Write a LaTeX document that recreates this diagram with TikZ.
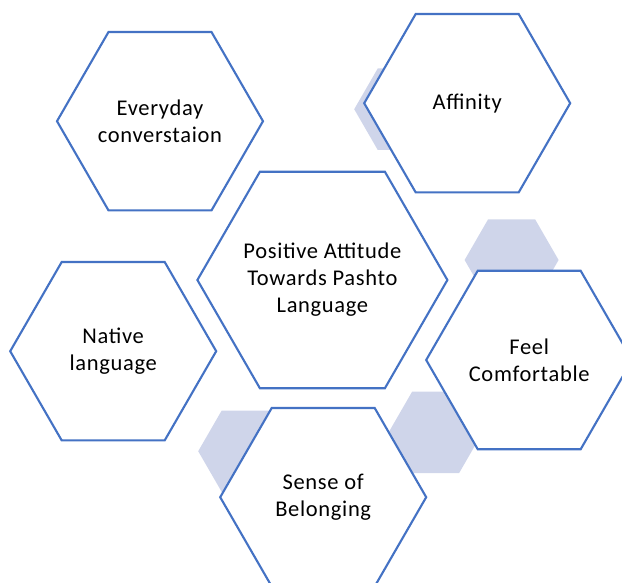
\documentclass[tikz,border=0pt]{standalone}
\usepackage{fontspec}
\setmainfont{Carlito}[LetterSpace=3]
\usepackage{tikz}
\usetikzlibrary{positioning,shapes.geometric}

\definecolor{hexline}{HTML}{4472C4}
\definecolor{hexshade}{HTML}{CFD5EA}

\begin{document}
\begin{tikzpicture}[
  hexa/.style={regular polygon,regular polygon sides=6,draw=hexline,line width=1.5pt,fill=white,inner sep=-0.6cm,minimum size=#1,align=center,font=\fontsize{16}{19.2}\selectfont},
  hexa/.default=5.15cm,
  ghost/.style={regular polygon,regular polygon sides=6,fill=hexshade,inner sep=0pt,minimum size=2.35cm},
]

% Page frame
\useasboundingbox (0,0) rectangle (15.55,-14.575);
\clip (0,0) rectangle (15.55,-14.575);

% Shaded hexagons in the back
\node[ghost] (g1) at (10.03,-2.73)  {};
\node[ghost] (g2) at (12.79,-6.50)  {};
\node[ghost] (g3) at (10.89,-10.81) {};
\node[ghost] (g4) at (6.13,-11.28)  {};

% Centre hexagon
\node[hexa=6.25cm] (attitude) at (8.06,-7.0) {Positive Attitude\\Towards Pashto\\Language};

% Surrounding hexagons
\node[hexa] (everyday)   at (4.0,-3.03)   {Everyday\\converstaion};
\node[hexa] (affinity)   at (11.68,-2.58) {Affinity};
\node[hexa] (native)     at (2.83,-8.78)  {Native\\language};
\node[hexa] (comfort)    at (13.23,-9.0)  {Feel\\Comfortable};
\node[hexa] (belonging)  at (8.08,-12.43) {Sense of\\Belonging};

\end{tikzpicture}
\end{document}
